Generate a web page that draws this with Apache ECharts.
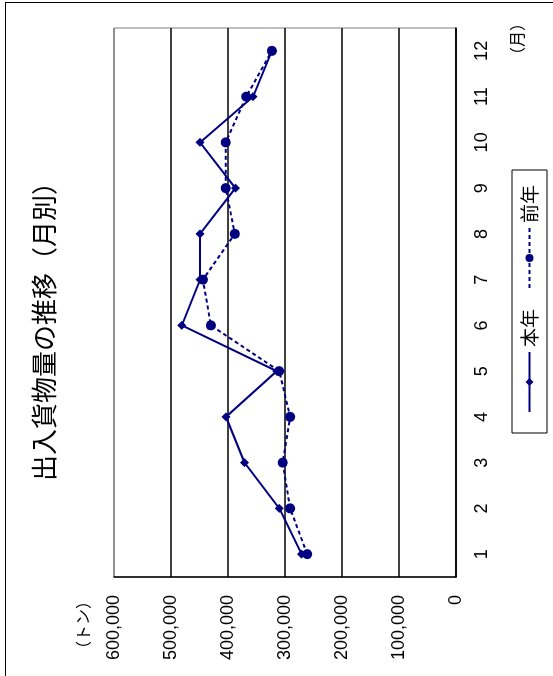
<!DOCTYPE html>
<html>
<head>
<meta charset="utf-8">
<script src="https://cdn.jsdelivr.net/npm/echarts@6/dist/echarts.min.js"></script>
<style>
  html, body { margin: 0; padding: 0; background: #fff; }
  #page { position: relative; width: 553px; height: 676px; overflow: hidden; background: #fff; }
  #frame { position: absolute; left: 5px; top: 2px; width: 700px; height: 800px;
           border-left: 1px solid #000; border-top: 1px solid #000; }
  #chart { position: absolute; left: 0; top: 0; width: 676px; height: 553px;
           transform-origin: 0 0; transform: translate(0px, 676px) rotate(-90deg); }
</style>
</head>
<body>
<div id="page">
  <div id="frame"></div>
  <div id="chart"></div>
</div>
<script>
// ---- data ----
const months = ['1', '2', '3', '4', '5', '6', '7', '8', '9', '10', '11', '12'];
const thisYear = [271000, 310000, 371000, 403500, 314500, 481000, 449000, 449000, 387000, 449000, 356000, 323000];
const lastYear = [261000, 291000, 304000, 291000, 310000, 430000, 444000, 388000, 404000, 404000, 368000, 323000];
const seriesNames = ['本年', '前年'];
const titleText = '出入貨物量の推移（月別）';
const valueUnit = '（トン）';
const monthUnit = '（月）';

const numFont = "'Liberation Sans', Arial, sans-serif";
const jpFont = "'Noto Sans CJK JP', sans-serif";
const navy = '#000080';

const chart = echarts.init(document.getElementById('chart'), null, { renderer: 'canvas', width: 676, height: 553 });
chart.setOption({
  animation: false,
  backgroundColor: 'transparent',
  textStyle: { fontFamily: numFont, color: '#000' },
  title: {
    text: titleText,
    left: 190,
    top: 26,
    textStyle: { fontFamily: jpFont, fontSize: 26, fontWeight: 'normal', color: '#000' }
  },
  grid: {
    left: 99, right: 28, top: 114, bottom: 97,
    show: true, borderColor: '#808080', borderWidth: 1, backgroundColor: 'transparent'
  },
  legend: {
    left: 243, top: 512,
    orient: 'horizontal',
    borderColor: '#000', borderWidth: 1,
    padding: [8, 15, 8, 20],
    itemWidth: 60, itemHeight: 10, itemGap: 20,
    textStyle: { fontFamily: jpFont, fontSize: 19, color: '#000' },
    data: seriesNames
  },
  graphic: [{
    type: 'text',
    left: 613, top: 509,
    style: { text: monthUnit, fontFamily: jpFont, fontSize: 16, fill: '#000' }
  }],
  xAxis: {
    type: 'category',
    data: months,
    boundaryGap: true,
    axisLine: { lineStyle: { color: '#000', width: 1.5 } },
    axisTick: { inside: true, length: 5, lineStyle: { color: '#000', width: 1 } },
    axisLabel: { margin: 17, fontSize: 18, color: '#000', fontFamily: numFont },
    splitLine: { show: false }
  },
  yAxis: {
    type: 'value',
    min: 0, max: 600000, interval: 100000,
    name: valueUnit,
    nameLocation: 'end',
    nameGap: 31,
    nameTextStyle: { fontFamily: jpFont, fontSize: 16, color: '#000', align: 'right', verticalAlign: 'middle', padding: [0, 16, 0, 0] },
    axisLine: { show: true, lineStyle: { color: '#000', width: 1.5 } },
    axisTick: { show: false },
    axisLabel: {
      margin: 18, fontSize: 18, color: '#000', fontFamily: numFont,
      formatter: v => v.toLocaleString('en-US')
    },
    splitLine: { show: true, lineStyle: { color: ['#000', '#000', '#000', '#000', '#000', '#000', '#808080'], width: 1.5 } }
  },
  series: [
    {
      name: seriesNames[0], type: 'line', data: thisYear,
      symbol: 'diamond', symbolSize: 9,
      itemStyle: { color: navy },
      lineStyle: { color: navy, width: 2, type: 'solid' }
    },
    {
      name: seriesNames[1], type: 'line', data: lastYear,
      symbol: 'circle', symbolSize: 10,
      itemStyle: { color: navy },
      lineStyle: { color: navy, width: 2, type: [4, 3] }
    }
  ]
});
</script>
</body>
</html>
